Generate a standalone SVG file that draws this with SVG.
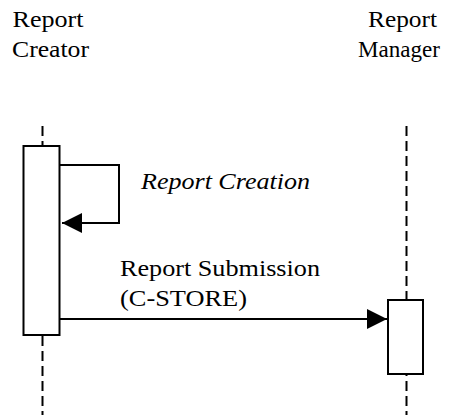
<svg xmlns="http://www.w3.org/2000/svg" width="449" height="415" viewBox="0 0 449 415">
<style>
text{font-family:"Liberation Serif","Times New Roman",serif;font-size:23.5px;fill:#000}
.it{font-style:italic}
.life{stroke:#000;stroke-width:2;stroke-dasharray:10 5;fill:none}
.box{fill:#fff;stroke:#000;stroke-width:2}
.msg{stroke:#000;stroke-width:2;fill:none}
</style>
<defs>
<marker id="ah" markerWidth="20" markerHeight="20" viewBox="0 0 20 20" refX="20" refY="10" orient="auto" markerUnits="userSpaceOnUse">
<path d="M0,0 L20,10 L0,20 Z" fill="#000"/>
</marker>
</defs>
<g id="creator">
<text x="12.5" y="26.7" textLength="71" lengthAdjust="spacingAndGlyphs">Report</text>
<text x="12" y="56.7" textLength="77" lengthAdjust="spacingAndGlyphs">Creator</text>
<line class="life" x1="42.5" y1="126" x2="42.5" y2="415"/>
<rect class="box" x="23.5" y="146" width="36" height="189"/>
</g>
<g id="manager">
<text x="368" y="26.7" textLength="69" lengthAdjust="spacingAndGlyphs">Report</text>
<text x="358" y="56.7" textLength="82" lengthAdjust="spacingAndGlyphs">Manager</text>
<line class="life" x1="406.5" y1="126" x2="406.5" y2="415"/>
<rect class="box" x="388" y="300" width="35" height="74"/>
</g>
<g id="connectors">
<path class="msg" d="M60,165 H119 V223 H62" marker-end="url(#ah)"/>
<text class="it" x="141" y="189.3" textLength="169" lengthAdjust="spacingAndGlyphs">Report Creation</text>
<path class="msg" d="M60,319 H387" marker-end="url(#ah)"/>
<text x="120" y="276" textLength="200" lengthAdjust="spacingAndGlyphs">Report Submission</text>
<text x="120" y="306" textLength="127" lengthAdjust="spacingAndGlyphs">(C-STORE)</text>
</g>
</svg>
